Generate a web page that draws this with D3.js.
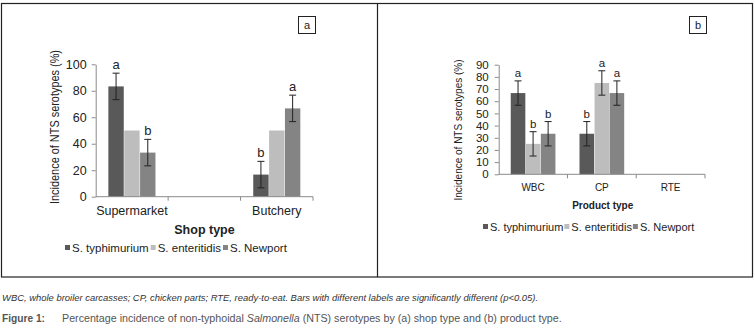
<!DOCTYPE html>
<html>
<head>
<meta charset="utf-8">
<script src="https://cdn.jsdelivr.net/npm/d3@7"></script>
<style>
  body { margin: 0; background: #fff; }
  svg { display: block; font-family: "Liberation Sans", Arial, sans-serif; }
</style>
</head>
<body>
<script>
// data
const series = ["S. typhimurium", "S. enteritidis", "S. Newport"]
const seriesColors = ["#595959", "#bdbdbd", "#848484"]

const shopTypes = ["Supermarket", "gap", "Butchery"]
const shopLabels = ["Supermarket", "", "Butchery"]
const shopValues = [[83.3, 50, 33.3], [null, null, null], [16.7, 50, 66.7]]
const shopErrors = [[10, 0, 10], [0, 0, 0], [10, 0, 10]]
const shopLetters = [["a", "", "b"], ["", "", ""], ["b", "", "a"]]
const shopTicks = [0, 20, 40, 60, 80, 100]

const productTypes = ["WBC", "CP", "RTE"]
const productValues = [[66.7, 25, 33.3], [33.3, 75, 66.7], [0, 0, 0]]
const productErrors = [[10, 10, 10], [10, 10, 10], [0, 0, 0]]
const productLetters = [["a", "b", "b"], ["b", "a", "a"], ["", "", ""]]
const productTicks = [0, 10, 20, 30, 40, 50, 60, 70, 80, 90]

const width = 755
const height = 332

const svg = d3.select("body").append("svg")
  .attr("width", width)
  .attr("height", height)

// frames
svg.append("rect")
  .attr("x", 1.5).attr("y", 3.5)
  .attr("width", 751).attr("height", 273.5)
  .attr("fill", "none").attr("stroke", "#222").attr("stroke-width", 1.2)
svg.append("line")
  .attr("x1", 377.5).attr("x2", 377.5).attr("y1", 3.5).attr("y2", 277)
  .attr("stroke", "#222").attr("stroke-width", 1.2)

function panel(opt) {
  const g = svg.append("g")

  const x = d3.scaleBand().domain(opt.cats).range(opt.xr).padding(0)
  const inner = d3.scaleBand().domain(series).range([0, x.bandwidth()])
    .paddingInner(0.03).paddingOuter(opt.outer)
  const y = d3.scaleLinear().domain(opt.ydom).range(opt.yr)

  // y axis
  const ya = g.append("g")
    .attr("transform", `translate(${opt.xr[0]},0)`)
    .call(d3.axisLeft(y).tickValues(opt.ticks).tickSize(4).tickPadding(opt.tickPad).tickSizeOuter(0))
  ya.select(".domain").attr("stroke", "#8a8a8a")
  ya.selectAll(".tick line").attr("stroke", "#8a8a8a")
  ya.selectAll(".tick text").attr("font-size", opt.tickFont).attr("fill", "#222")
    .attr("font-family", "Liberation Sans, Arial, sans-serif")

  // bars
  opt.cats.forEach((c, ci) => {
    series.forEach((s, si) => {
      const v = opt.values[ci][si]
      if (v === null) return
      const bx = x(c) + inner(s)
      g.append("rect")
        .attr("x", bx).attr("width", inner.bandwidth())
        .attr("y", y(v)).attr("height", y(0) - y(v))
        .attr("fill", seriesColors[si])
      const e = opt.errors[ci][si]
      const cx = bx + inner.bandwidth() / 2
      if (e > 0) {
        g.append("line").attr("x1", cx).attr("x2", cx)
          .attr("y1", y(v - e)).attr("y2", y(v + e))
          .attr("stroke", "#222").attr("stroke-width", 1)
        ;[v - e, v + e].forEach(t => {
          g.append("line").attr("x1", cx - 3.5).attr("x2", cx + 3.5)
            .attr("y1", y(t)).attr("y2", y(t))
            .attr("stroke", "#222").attr("stroke-width", 1)
        })
      }
      const l = opt.letters[ci][si]
      if (l) {
        g.append("text").attr("x", cx).attr("y", y(v + e) - opt.letterGap)
          .attr("text-anchor", "middle").attr("font-size", opt.letterFont)
          .attr("fill", "#222").text(l)
      }
    })
  })

  // x axis
  g.append("line").attr("x1", opt.xr[0]).attr("x2", opt.xr[1])
    .attr("y1", y(0)).attr("y2", y(0)).attr("stroke", "#8a8a8a")
  const edges = opt.cats.map(c => x(c)).concat([opt.xr[1]])
  edges.slice(1).forEach(ex => {
    g.append("line").attr("x1", ex).attr("x2", ex)
      .attr("y1", y(0)).attr("y2", y(0) + 4).attr("stroke", "#8a8a8a")
  })
  opt.cats.forEach((c, ci) => {
    g.append("text").attr("x", x(c) + x.bandwidth() / 2).attr("y", y(0) + opt.catDy)
      .attr("text-anchor", "middle").attr("font-size", opt.catFont).attr("fill", "#222")
      .text(opt.catLabels[ci])
  })

  // titles
  g.append("text").attr("x", opt.xTitle[0]).attr("y", opt.xTitle[1])
    .attr("text-anchor", "middle").attr("font-size", opt.xTitleFont)
    .attr("font-weight", "bold").attr("fill", "#222").text(opt.xTitleText)
  g.append("text")
    .attr("transform", `translate(${opt.yTitle[0]},${opt.yTitle[1]}) rotate(-90)`)
    .attr("text-anchor", "middle").attr("font-size", opt.yTitleFont)
    .attr("textLength", opt.yTitleLen).attr("lengthAdjust", "spacingAndGlyphs")
    .attr("fill", "#222").text("Incidence of NTS serotypes (%)")

  // legend
  const lg = g.append("g").attr("transform", `translate(${opt.legend[0]},${opt.legend[1]})`)
  let lx = 0
  series.forEach((s, si) => {
    lg.append("rect").attr("x", lx).attr("y", -3).attr("width", 5).attr("height", 5)
      .attr("fill", seriesColors[si])
    const t = lg.append("text").attr("x", lx + 7).attr("y", 4)
      .attr("font-size", opt.legendFont).attr("fill", "#222").text(s)
    lx += 7 + t.node().getComputedTextLength() + opt.legendGap
  })

  // panel tag
  svg.append("rect").attr("x", opt.tag[0] + 0.5).attr("y", opt.tag[1] + 0.5)
    .attr("width", 17).attr("height", 17)
    .attr("fill", "#fff").attr("stroke", "#222").attr("stroke-width", 1)
  svg.append("text").attr("x", opt.tag[0] + 9).attr("y", opt.tag[1] + 13)
    .attr("text-anchor", "middle").attr("font-size", 11).attr("fill", "#222")
    .text(opt.tagText)
}

panel({
  cats: shopTypes, catLabels: shopLabels, values: shopValues, errors: shopErrors,
  letters: shopLetters, ticks: shopTicks, ydom: [0, 100],
  xr: [95.7, 313], yr: [196.7, 64.3], outer: 0.8,
  tickPad: 5, tickFont: 12.5, letterFont: 13, letterGap: 4, catFont: 12.5, catDy: 18,
  xTitle: [204.5, 234], xTitleFont: 12.5, xTitleText: "Shop type",
  yTitle: [59, 127], yTitleFont: 12.5, yTitleLen: 154,
  legend: [65, 248], legendFont: 11.5, legendGap: 2,
  tag: [298, 16], tagText: "a"
})

panel({
  cats: productTypes, catLabels: productTypes, values: productValues, errors: productErrors,
  letters: productLetters, ticks: productTicks, ydom: [0, 90],
  xr: [498.7, 705], yr: [174.3, 64.7], outer: 0.8,
  tickPad: 6, tickFont: 11.5, letterFont: 11.5, letterGap: 4, catFont: 10, catDy: 17,
  xTitle: [602.7, 209], xTitleFont: 10, xTitleText: "Product type",
  yTitle: [462, 130], yTitleFont: 11.5, yTitleLen: 141,
  legend: [483, 227], legendFont: 11, legendGap: 1,
  tag: [689, 16], tagText: "b"
})

// caption
svg.append("text").attr("x", 2).attr("y", 300.5)
  .attr("font-size", 9.5).attr("font-style", "italic").attr("fill", "#333")
  .attr("textLength", 536).attr("lengthAdjust", "spacingAndGlyphs")
  .text("WBC, whole broiler carcasses; CP, chicken parts; RTE, ready-to-eat. Bars with different labels are significantly different (p<0.05).")
svg.append("text").attr("x", 2).attr("y", 321.5)
  .attr("font-size", 10.5).attr("font-weight", "bold").attr("fill", "#555")
  .attr("textLength", 43).attr("lengthAdjust", "spacingAndGlyphs")
  .text("Figure 1:")
const cap = svg.append("text").attr("x", 62).attr("y", 321.5)
  .attr("font-size", 10.5).attr("fill", "#555")
  .attr("textLength", 499.7).attr("lengthAdjust", "spacingAndGlyphs")
cap.append("tspan").text("Percentage incidence of non-typhoidal ")
cap.append("tspan").attr("font-style", "italic").text("Salmonella")
cap.append("tspan").text(" (NTS) serotypes by (a) shop type and (b) product type.")
</script>
</body>
</html>
